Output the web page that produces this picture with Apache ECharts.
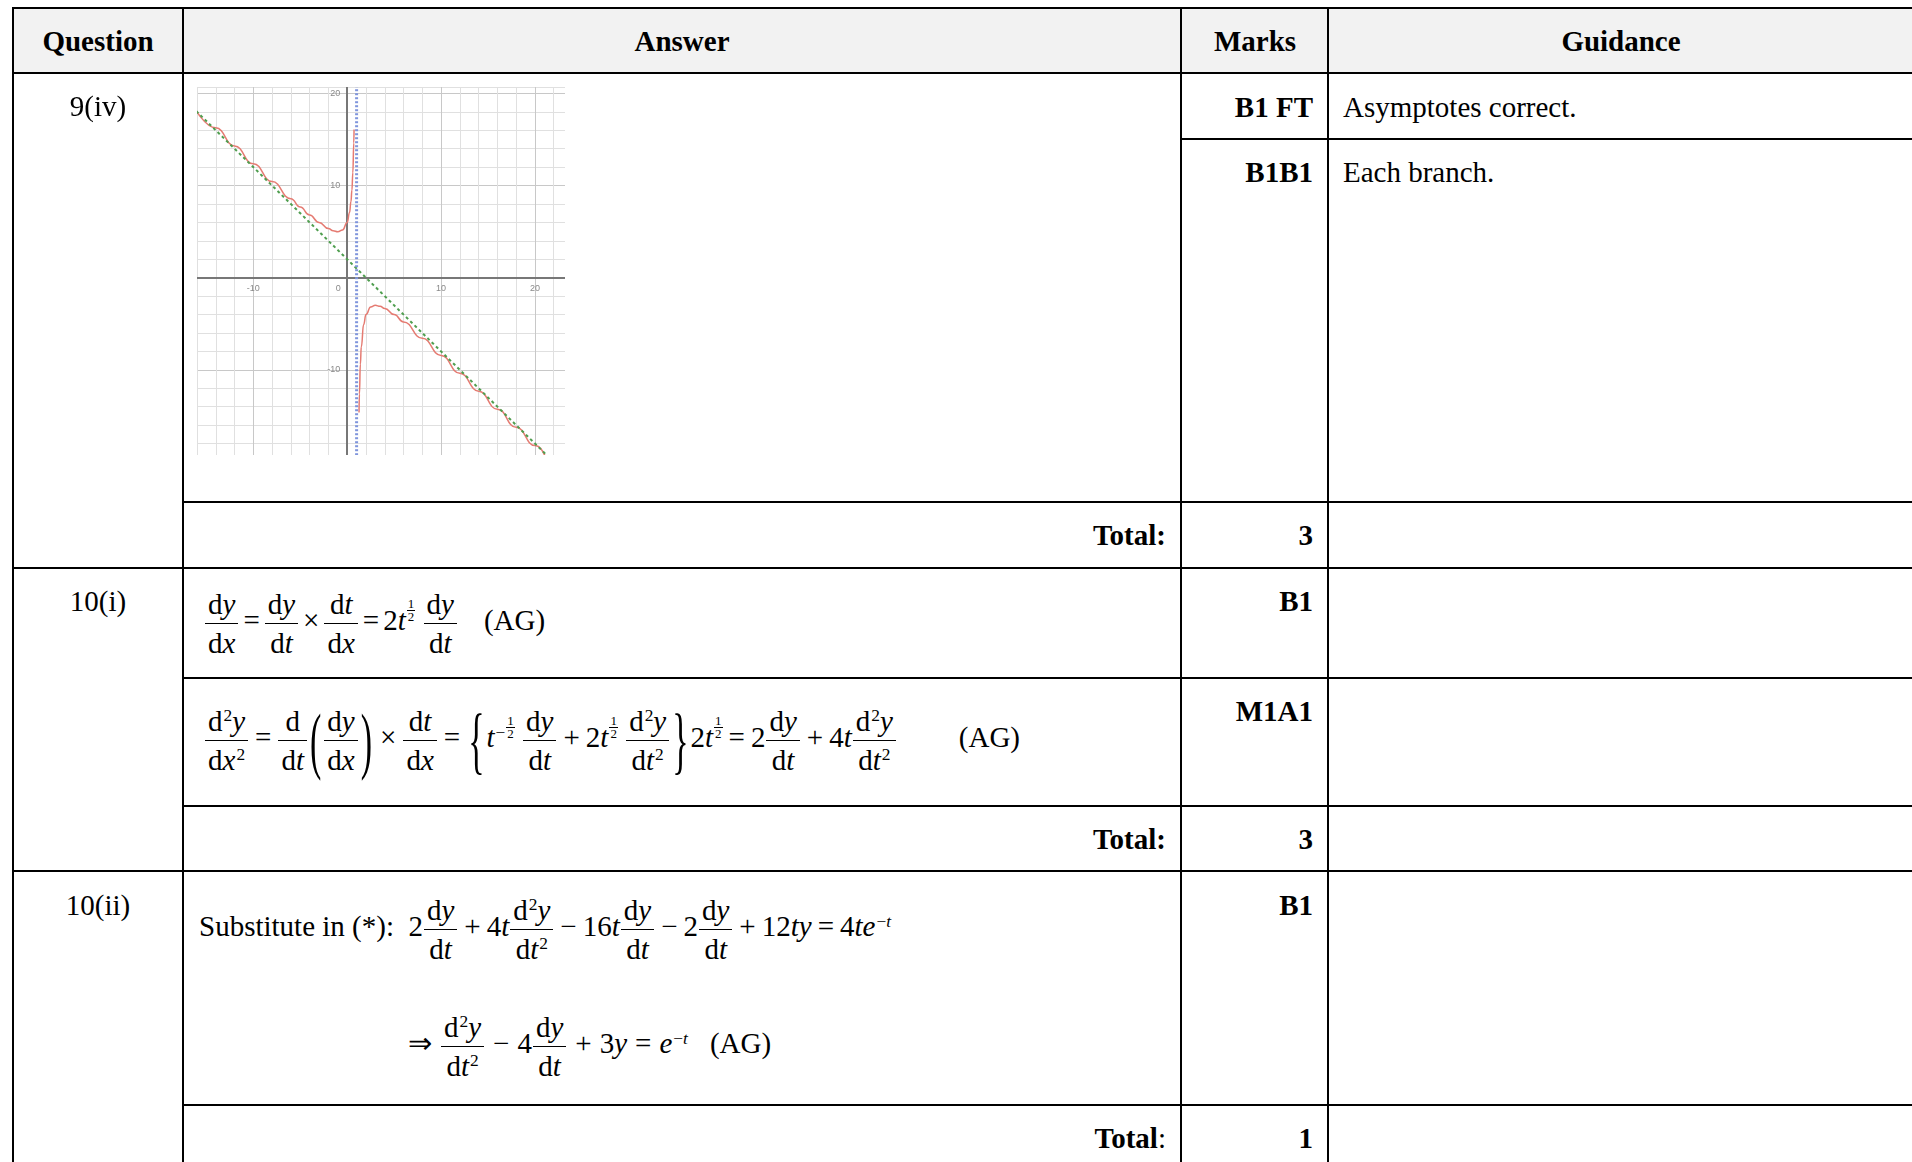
<!DOCTYPE html>
<html>
<head>
<meta charset="utf-8">
<script src="https://cdn.jsdelivr.net/npm/echarts/dist/echarts.min.js"></script>
<style>
body { margin:0; width:1912px; height:1162px; overflow:hidden; background:#fff;
  font-family:'Liberation Serif','Times New Roman',serif; font-size:29px; color:#000; }
.ln { position:absolute; background:#000; }
.hd { position:absolute; background:#f2f2f2; }
.t { position:absolute; height:40px; line-height:40px; white-space:nowrap; }
.m { position:absolute; white-space:nowrap; line-height:normal; }
.fr { display:inline-block; vertical-align:middle; text-align:center; margin:0 1px; }
.fr > span { display:block; line-height:32px; padding:0 3px; }
.fr > .n { border-bottom:1.5px solid #000; padding-bottom:3px; }
.fr > .d { padding-top:3px; }
.sq { position:relative; top:-0.55em; font-size:60%; line-height:0; margin-left:1px; }
.sf { display:inline-block; vertical-align:middle; position:relative; top:-13px; font-size:13px; text-align:center; margin-left:1px; }
.sf > span { display:block; line-height:12px; padding:0 1px; }
.sf > .n { border-bottom:1px solid #000; }
.op { margin:0 6px; }
.m.tight .op { margin:0 4px; }
.m.wide .op { margin:0 8px; }
.br { display:inline-block; vertical-align:middle; font-size:34px; line-height:1; transform:scaleY(2.2); margin:0 2px; }
#graphBox { position:absolute; left:197px; top:87px; width:368px; height:368px; overflow:hidden; }
#graph { width:368px; height:375px; }
</style>
</head>
<body>
<div id="graphBox"><div id="graph"></div></div>
<script>
// values (upper-left and lower-right branches)
const leftBranchX = [-16.3, -14, -12, -10, -8, -6, -5, -4, -3, -2, -1.5, -1, -0.5, 0, 0.25, 0.4, 0.5, 0.6, 0.7, 0.73];
const leftBranchY = [18.53, 16.27, 14.31, 12.36, 10.44, 8.57, 7.67, 6.8, 6.0, 5.33, 5.1, 5.0, 5.17, 6.0, 7.08, 8.27, 9.5, 11.4, 14.63, 16.08];
const rightBranchX = [1.26, 1.3, 1.4, 1.5, 1.75, 2, 2.5, 3, 3.5, 4, 5, 6, 8, 10, 12, 14, 16, 18, 20, 22, 24];
const rightBranchY = [-14.64, -12.63, -9.4, -7.5, -5.08, -4.0, -3.17, -3.0, -3.1, -3.33, -4.0, -4.8, -6.57, -8.44, -10.36, -12.31, -14.27, -16.24, -18.21, -20.19, -22.17];
// asymptotes
const slantX = [-17, 24];
const slantY = [19, -22];
const verticalX = [1, 1];
const verticalY = [-21, 21];
// labelled ticks
const xTickLabels = [-10, 0, 10, 20];
const yTickLabels = [20, 10, -10];

const pairs = (xs, ys) => xs.map((x, i) => [x, ys[i]]);

// ---- table frame ----
function box(cls, x, y, w, h) {
  const d = document.createElement('div');
  d.className = cls;
  d.style.left = x + 'px'; d.style.top = y + 'px';
  d.style.width = w + 'px'; d.style.height = h + 'px';
  document.body.appendChild(d);
}
box('hd', 13, 8, 1920, 65);
[[8, 13], [73, 13], [139, 1181], [502, 183], [568, 13], [678, 183], [806, 183], [871, 13], [1105, 183]]
  .forEach(([y, x0]) => box('ln', x0 - 1, y - 1, 1940 - x0, 2));
[13, 183, 1181, 1328].forEach(x => box('ln', x - 1, 7, 2, 1160));

function txt(str, x, y, align, bold) {
  const d = document.createElement('div');
  d.className = 't';
  d.innerHTML = str;
  d.style.top = (y - 20) + 'px';
  if (align === 'c') { d.style.left = (x - 300) + 'px'; d.style.width = '600px'; d.style.textAlign = 'center'; }
  else if (align === 'r') d.style.right = (1912 - x) + 'px';
  else d.style.left = x + 'px';
  if (bold) d.style.fontWeight = 'bold';
  document.body.appendChild(d);
}
txt('Question', 98, 41, 'c', true);
txt('Answer', 682, 41, 'c', true);
txt('Marks', 1255, 41, 'c', true);
txt('Guidance', 1621, 41, 'c', true);

txt('9(iv)', 98, 106, 'c');
txt('10(i)', 98, 601, 'c');
txt('10(ii)', 98, 905, 'c');

txt('B1 FT', 1313, 107, 'r', true);
txt('B1B1', 1313, 172, 'r', true);
txt('3', 1313, 535, 'r', true);
txt('B1', 1313, 601, 'r', true);
txt('M1A1', 1313, 711, 'r', true);
txt('3', 1313, 839, 'r', true);
txt('B1', 1313, 905, 'r', true);
txt('1', 1313, 1138, 'r', true);

txt('Asymptotes correct.', 1343, 107);
txt('Each branch.', 1343, 172);

txt('Total:', 1166, 535, 'r', true);
txt('Total:', 1166, 839, 'r', true);
txt('Total<span style="font-weight:normal">:</span>', 1166, 1138, 'r', true);

// ---- maths ----
const I = s => '<i>' + s + '</i>';
const fr = (n, d) => '<span class="fr"><span class="n">' + n + '</span><span class="d">' + d + '</span></span>';
const sf = (n, d) => '<span class="sf"><span class="n">' + n + '</span><span class="d">' + d + '</span></span>';
const op = s => '<span class="op">' + s + '</span>';
const sq = '<span class="sq">2</span>';
const sup = s => '<span class="sq">' + s + '</span>';
const br = s => '<span class="br">' + s + '</span>';
const dy = 'd' + I('y'), dt = 'd' + I('t'), dx = 'd' + I('x');
const d2y = 'd' + sq + I('y'), dt2 = 'd' + I('t') + sq, dx2 = 'd' + I('x') + sq;
const half = sf('1', '2');
const gap = w => '<span style="display:inline-block;width:' + w + 'px"></span>';

function math(html, x, y, cls) {
  const d = document.createElement('div');
  d.className = 'm' + (cls ? ' ' + cls : '');
  d.innerHTML = html;
  d.style.left = x + 'px';
  d.style.top = (y - 36) + 'px';
  document.body.appendChild(d);
}

math(fr(dy, dx) + op('=') + fr(dy, dt) + op('×') + fr(dt, dx) + op('=') + '2' + I('t') + half + ' ' +
  fr(dy, dt) + gap(26) + '(AG)', 204, 624, 'tight');

math(fr(d2y, dx2) + op('=') + fr('d', dt) + br('(') + fr(dy, dx) + br(')') + op('×') + fr(dt, dx) + op('=') +
  br('{') + I('t') + '<span class="sq">−</span>' + sf('1', '2') + ' ' + fr(dy, dt) + op('+') + '2' + I('t') + half + ' ' +
  fr(d2y, dt2) + br('}') + '2' + I('t') + half + op('=') + '2' + fr(dy, dt) + op('+') + '4' + I('t') + fr(d2y, dt2) +
  gap(62) + '(AG)', 204, 741);

math('Substitute in (*):&nbsp; 2' + fr(dy, dt) + op('+') + '4' + I('t') + fr(d2y, dt2) + op('−') + '16' + I('t') +
  fr(dy, dt) + op('−') + '2' + fr(dy, dt) + op('+') + '12' + I('ty') + op('=') + '4' + I('te') + sup('−' + I('t')), 199, 930);

math(op('⇒') + fr(d2y, dt2) + op('−') + '4' + fr(dy, dt) + op('+') + '3' + I('y') + op('=') + I('e') + sup('−' + I('t')) +
  gap(22) + '(AG)', 400, 1047, 'wide');

// ---- sketch graph ----
const chart = echarts.init(document.getElementById('graph'));
chart.setOption({
  animation: false,
  grid: { left: 0, right: 0, top: 0, bottom: 0, containLabel: false, outerBoundsMode: 'none' },
  xAxis: {
    type: 'value', min: -16, max: 23.2, interval: 2,
    position: 'bottom', offset: -184.3,
    axisLine: { onZero: false, lineStyle: { color: '#777', width: 2 } },
    axisTick: { show: false },
    axisLabel: {
      fontSize: 9, color: '#8a8a8a', margin: 6,
      formatter: v => xTickLabels.includes(v) ? (v === 0 ? '{z|0}' : String(v)) : '',
      rich: { z: { fontSize: 9, color: '#8a8a8a', padding: [0, 18, 0, 0] } }
    },
    splitLine: { lineStyle: { color: ['#e0e0e0', '#e0e0e0', '#e0e0e0', '#c8c8c8', '#e0e0e0'], width: 1 } }
  },
  yAxis: {
    type: 'value', min: -20, max: 20.7, interval: 2,
    position: 'left', offset: -150.2,
    axisLine: { onZero: false, lineStyle: { color: '#777', width: 2 } },
    axisTick: { show: false },
    axisLabel: {
      fontSize: 9, color: '#8a8a8a', margin: 7,
      formatter: v => yTickLabels.includes(v) ? String(v) : ''
    },
    splitLine: { lineStyle: { color: ['#c8c8c8', '#e0e0e0', '#e0e0e0', '#e0e0e0', '#e0e0e0'], width: 1 } }
  },
  series: [
    { type: 'line', data: pairs(leftBranchX, leftBranchY), showSymbol: false, smooth: true, smoothMonotone: 'x',
      lineStyle: { color: '#e57b72', width: 1.5 }, silent: true },
    { type: 'line', data: pairs(rightBranchX, rightBranchY), showSymbol: false, smooth: true, smoothMonotone: 'x',
      lineStyle: { color: '#e57b72', width: 1.5 }, silent: true },
    { type: 'line', data: pairs(slantX, slantY), showSymbol: false,
      lineStyle: { color: '#4f9e4f', width: 2, type: [3, 3] }, silent: true },
    { type: 'line', data: pairs(verticalX, verticalY), showSymbol: false,
      lineStyle: { color: '#7f95dc', width: 3, type: [2, 2] }, silent: true }
  ]
});
</script>
</body>
</html>
